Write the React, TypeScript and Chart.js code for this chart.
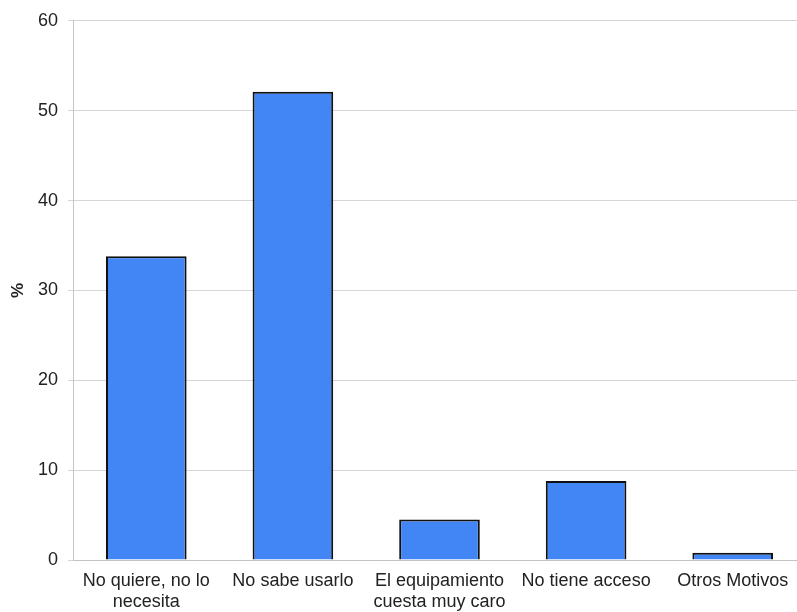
import React, { useEffect, useRef } from "react";
import { Chart, registerables } from "chart.js";

Chart.register(...registerables);

const categories: (string | string[])[] = [
  ["No quiere, no lo", "necesita"],
  "No sabe usarlo",
  ["El equipamiento", "cuesta muy caro"],
  "No tiene acceso",
  "Otros Motivos",
];
const percentages = [33.8, 52.1, 4.5, 8.8, 0.8];
const yTicks = [0, 10, 20, 30, 40, 50, 60];

const FONT = "'Liberation Sans', Arial, sans-serif";

export default function App() {
  const canvasRef = useRef<HTMLCanvasElement | null>(null);

  useEffect(() => {
    document.body.style.margin = "0";
    const canvas = canvasRef.current;
    if (!canvas) return;
    const chart = new Chart(canvas, {
      type: "bar",
      data: {
        labels: categories,
        datasets: [
          {
            data: percentages,
            backgroundColor: "#4285F4",
            borderColor: "#111111",
            borderWidth: 2,
            barPercentage: 0.55,
            categoryPercentage: 1,
          },
        ],
      },
      options: {
        animation: false,
        responsive: false,
        maintainAspectRatio: false,
        layout: { padding: { top: 20, right: 0, left: 0, bottom: 0 } },
        plugins: {
          legend: { display: false },
          tooltip: { enabled: false },
        },
        scales: {
          x: {
            grid: { display: false },
            border: { display: true, color: "#c4c4c4", width: 1 },
            ticks: {
              color: "#222222",
              font: { family: FONT, size: 18, lineHeight: 1.15 },
              padding: 3,
              maxRotation: 0,
              autoSkip: false,
            },
            afterFit: (scale: any) => {
              scale.height = 52;
            },
          },
          y: {
            min: 0,
            max: 60,
            afterBuildTicks: (scale: any) => {
              scale.ticks = yTicks.map((v) => ({ value: v }));
            },
            grid: { color: "#d6d6d6", tickLength: 5, lineWidth: 1 },
            border: { display: true, color: "#c4c4c4", width: 1 },
            ticks: {
              color: "#222222",
              font: { family: FONT, size: 18 },
              padding: 10,
            },
            title: {
              display: true,
              text: "%",
              color: "#222222",
              font: { family: FONT, size: 17, weight: "bold" },
              padding: { top: 8.5, bottom: 0 },
            },
            afterFit: (scale: any) => {
              scale.width = 73;
            },
          },
        },
      },
    });
    return () => chart.destroy();
  }, []);

  return (
    <div style={{ width: 797, height: 612, overflow: "hidden", background: "#ffffff" }}>
      <canvas ref={canvasRef} width={806} height={612} style={{ display: "block" }} />
    </div>
  );
}
